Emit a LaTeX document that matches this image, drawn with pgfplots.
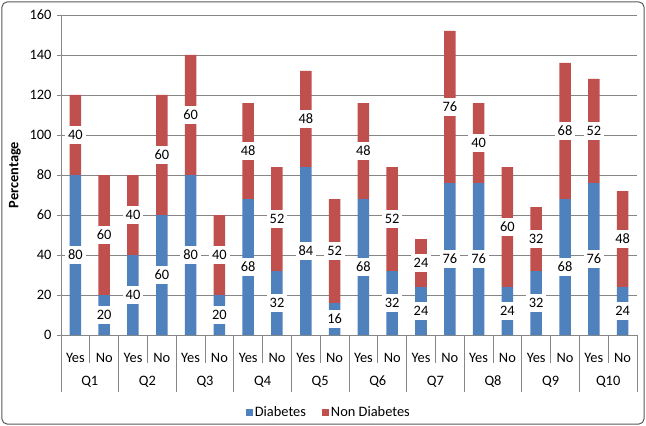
\documentclass[border=0pt]{standalone}
\usepackage{pgfplots}
\pgfplotsset{compat=1.18}
\usepackage{pgfplotstable}
\usepackage{fontspec}
\setmainfont{Carlito}
\definecolor{dblue}{HTML}{4F81BD}
\definecolor{dred}{HTML}{C0504D}
\definecolor{gridc}{HTML}{868686}

\pgfplotstableread{
x d n
0 80 40
1 20 60
2 40 40
3 60 60
4 80 60
5 20 40
6 68 48
7 32 52
8 84 48
9 16 52
10 68 48
11 32 52
12 24 24
13 76 76
14 76 40
15 24 60
16 32 32
17 68 68
18 76 52
19 24 48
}\data

\newcommand{\lblfont}{\fontsize{14.4}{17}\selectfont}

\begin{document}
\begin{tikzpicture}
\path (-61pt,-91pt) rectangle (585pt,335pt);
\draw[color=black!65, line width=1pt, rounded corners=5pt] (-59pt,-89pt) rectangle (583pt,333pt);
\begin{axis}[
  at={(0,0)}, anchor=south west,
  scale only axis, width=576pt, height=320pt,
  ybar stacked, bar width=11.5pt,
  xmin=-0.5, xmax=19.5, ymin=0, ymax=160,
  ytick={0,20,...,160},
  xtick={0,...,19},
  xticklabels={Yes,No,Yes,No,Yes,No,Yes,No,Yes,No,Yes,No,Yes,No,Yes,No,Yes,No,Yes,No},
  ymajorgrids, major grid style={gridc, line width=0.8pt},
  axis x line*=bottom, axis y line*=left,
  axis line style={gridc, line width=0.8pt},
  tick align=outside, major tick length=4pt,
  ytick style={gridc, line width=0.8pt},
  xtick style={draw=none},
  /pgf/number format/assume math mode=true,
  tick label style={font=\lblfont},
  yticklabel style={xshift=-2pt},
  xticklabel style={anchor=center, yshift=-19pt},
  ylabel={Percentage},
  every axis y label/.style={at={(axis description cs:0,0.5)}, xshift=-46pt, rotate=90, anchor=center, font=\bfseries\lblfont},
  legend style={at={(axis description cs:0.465,-0.242)}, anchor=center, draw=none, font=\lblfont,
    /tikz/every even column/.append style={column sep=14pt}},
  legend columns=2,
]
\addplot[fill=dblue, draw=none, legend image code/.code={\fill[dblue] (0pt,-3.5pt) rectangle (7pt,3.5pt);}] table[x=x,y=d]{\data};
\addplot[fill=dred, draw=none, legend image code/.code={\fill[dred] (0pt,-3.5pt) rectangle (7pt,3.5pt);}] table[x=x,y=n]{\data};
\legend{Diabetes, Non Diabetes}
\end{axis}
\begin{axis}[
  at={(0,0)}, anchor=south west,
  scale only axis, width=576pt, height=320pt,
  xmin=-0.5, xmax=19.5, ymin=0, ymax=160,
  hide axis, clip=false,
  /pgf/number format/assume math mode=true,
  nodes near coords,
  every node near coord/.append style={anchor=center, fill=white, inner xsep=3pt, inner ysep=4.5pt, font=\lblfont, text=black},
]
\addplot[draw=none, mark=none, point meta=explicit] table[x=x, y expr=\thisrow{d}/2, meta=d]{\data};
\addplot[draw=none, mark=none, point meta=explicit] table[x=x, y expr=\thisrow{d}+\thisrow{n}/2, meta=n]{\data};
\pgfplotsinvokeforeach{0,...,9}{
  \draw[gridc, line width=0.8pt] (axis cs:{2*#1+0.5},0) -- ([yshift=-28pt]axis cs:{2*#1+0.5},0);
  \draw[gridc, line width=0.8pt] (axis cs:{2*#1-0.5},0) -- ([yshift=-57pt]axis cs:{2*#1-0.5},0);
  \node[font=\lblfont, anchor=center] at ([yshift=-47pt]axis cs:{2*#1+0.5},0) {Q\the\numexpr#1+1\relax};
}
\draw[gridc, line width=0.8pt] (axis cs:19.5,0) -- ([yshift=-57pt]axis cs:19.5,0);
\end{axis}
\end{tikzpicture}
\end{document}
